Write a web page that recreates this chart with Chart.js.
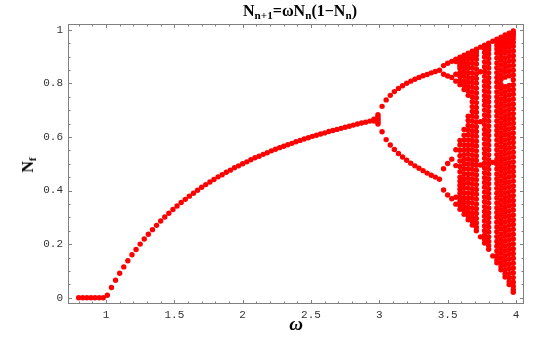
<!DOCTYPE html>
<html>
<head>
<meta charset="utf-8">
<script src="https://cdn.jsdelivr.net/npm/chart.js@4.4.1/dist/chart.umd.min.js"></script>
<style>
  html, body { margin: 0; padding: 0; background: #fff; }
  #wrap { position: relative; width: 546px; height: 337px; overflow: hidden; }
  #chart { position: absolute; left: 0; top: 0; }
  .lbl { position: absolute; font-family: "Liberation Serif", "DejaVu Serif", serif; color: #000; white-space: nowrap; line-height: 16px; }
  .lbl sub { font-size: 0.7em; vertical-align: -0.3em; line-height: 0; }
  #title { left: 300px; top: 3px; font-size: 16px; font-weight: bold; transform: translateX(-50%); }
  #ylab { left: 28px; top: 165px; font-size: 16px; font-weight: bold; transform: translate(-50%, -50%) rotate(-90deg); }
  #xlab { left: 296px; top: 326px; font-size: 19px; font-style: italic; font-weight: bold; transform: translate(-50%, -60%); }
</style>
</head>
<body>
<div id="wrap">
  <canvas id="chart" width="546" height="337"></canvas>
  <div class="lbl" id="title">N<sub>n+1</sub>=&omega;N<sub>n</sub>(1&minus;N<sub>n</sub>)</div>
  <div class="lbl" id="ylab">N<sub>f</sub></div>
  <div class="lbl" id="xlab">&omega;</div>
</div>
<script>
// ===============================
// Dados (passo de omega = 0.03)
// ===============================

// eixos
const xTickValues = [1, 1.5, 2, 2.5, 3, 3.5, 4];
const xTickLabels = ["1", "1.5", "2", "2.5", "3", "3.5", "4"];
const yTickValues = [0, 0.2, 0.4, 0.6, 0.8, 1];
const yTickLabels = ["0", "0.2", "0.4", "0.6", "0.8", "1"];

// omega < 1: população extinta
const lowOmega = [0.80, 0.83, 0.86, 0.89, 0.92, 0.95, 0.98];
const lowNf = [0, 0, 0, 0, 0, 0, 0];

// ponto fixo único
const fixedOmega = [
  1.01, 1.04, 1.07, 1.10, 1.13, 1.16, 1.19, 1.22, 1.25, 1.28,
  1.31, 1.34, 1.37, 1.40, 1.43, 1.46, 1.49, 1.52, 1.55, 1.58,
  1.61, 1.64, 1.67, 1.70, 1.73, 1.76, 1.79, 1.82, 1.85, 1.88,
  1.91, 1.94, 1.97, 2.00, 2.03, 2.06, 2.09, 2.12, 2.15, 2.18,
  2.21, 2.24, 2.27, 2.30, 2.33, 2.36, 2.39, 2.42, 2.45, 2.48,
  2.51, 2.54, 2.57, 2.60, 2.63, 2.66, 2.69, 2.72, 2.75, 2.78,
  2.81, 2.84, 2.87, 2.90, 2.93
];
const fixedNf = [
  0.009, 0.038, 0.065, 0.091, 0.115, 0.138, 0.160, 0.180, 0.200, 0.219,
  0.237, 0.254, 0.270, 0.286, 0.301, 0.315, 0.329, 0.342, 0.355, 0.367,
  0.379, 0.390, 0.401, 0.412, 0.422, 0.432, 0.441, 0.451, 0.459, 0.468,
  0.476, 0.485, 0.492, 0.500, 0.507, 0.515, 0.522, 0.528, 0.535, 0.541,
  0.548, 0.554, 0.560, 0.565, 0.571, 0.576, 0.582, 0.587, 0.592, 0.597,
  0.602, 0.606, 0.611, 0.615, 0.620, 0.624, 0.628, 0.632, 0.636, 0.640,
  0.644, 0.648, 0.652, 0.655, 0.659
];

// perto de omega = 3 (convergência lenta)
const nearThreeOmega = [2.96, 2.99];
const nearThreeNf = [
  [0.659, 0.666],
  [0.648, 0.655, 0.662, 0.669, 0.676, 0.683]
];

// período 2
const period2Omega = [
  3.02, 3.05, 3.08, 3.11, 3.14, 3.17, 3.20, 3.23,
  3.26, 3.29, 3.32, 3.35, 3.38, 3.41, 3.44
];
const period2Upper = [
  0.714, 0.738, 0.755, 0.769, 0.781, 0.791, 0.800, 0.808,
  0.815, 0.822, 0.828, 0.833, 0.839, 0.844, 0.849
];
const period2Lower = [
  0.619, 0.590, 0.570, 0.553, 0.538, 0.525, 0.513, 0.502,
  0.492, 0.483, 0.474, 0.465, 0.457, 0.450, 0.442
];

// período 4 e 8
const period4Omega = [3.47, 3.50, 3.53, 3.56];
const period4Nf = [
  [0.402, 0.481, 0.834, 0.866],
  [0.383, 0.501, 0.827, 0.875],
  [0.369, 0.517, 0.822, 0.882],
  [0.349, 0.375, 0.493, 0.552, 0.808, 0.834, 0.881, 0.890]
];

// região caótica (com janelas de período 5 em 3.74 e período 3 em 3.83)
const chaosOmega = [3.59, 3.62, 3.65, 3.68, 3.71, 3.74, 3.77, 3.80, 3.83, 3.86, 3.89, 3.92, 3.95, 3.98];
const chaosNf = [
  [0.330, 0.345, 0.360, 0.375, 0.390, 0.405, 0.420, 0.435, 0.450, 0.470, 0.490, 0.510, 0.530, 0.550, 0.570, 0.587,
   0.795, 0.810, 0.825, 0.840, 0.855, 0.865, 0.872, 0.885, 0.897],
  [0.311, 0.325, 0.340, 0.355, 0.372, 0.390, 0.408, 0.426, 0.444, 0.462, 0.480, 0.498, 0.516, 0.534, 0.552, 0.570,
   0.588, 0.606, 0.628, 0.777, 0.793, 0.810, 0.827, 0.844, 0.861, 0.878, 0.893, 0.905],
  [0.291, 0.305, 0.320, 0.337, 0.355, 0.373, 0.391, 0.409, 0.427, 0.445, 0.463, 0.481, 0.499, 0.517, 0.535, 0.553,
   0.571, 0.589, 0.607, 0.625, 0.643, 0.661, 0.677, 0.755, 0.771, 0.788, 0.805, 0.822, 0.839, 0.856, 0.873, 0.890,
   0.903, 0.912],
  [0.271, 0.285, 0.300, 0.317, 0.335, 0.353, 0.371, 0.389, 0.407, 0.425, 0.443, 0.461, 0.479, 0.497, 0.515, 0.533,
   0.551, 0.569, 0.587, 0.605, 0.623, 0.641, 0.659, 0.677, 0.695, 0.713, 0.731, 0.749, 0.767, 0.785, 0.803, 0.821,
   0.839, 0.857, 0.875, 0.893, 0.908, 0.920],
  [0.250, 0.263, 0.279, 0.296, 0.314, 0.332, 0.350, 0.368, 0.386, 0.404, 0.422, 0.440, 0.458, 0.476, 0.494, 0.512,
   0.530, 0.548, 0.566, 0.584, 0.602, 0.620, 0.638, 0.656, 0.674, 0.692, 0.710, 0.728, 0.746, 0.764, 0.782, 0.800,
   0.818, 0.836, 0.854, 0.872, 0.890, 0.905, 0.917, 0.927],
  [0.227, 0.495, 0.657, 0.843, 0.935],
  [0.204, 0.217, 0.233, 0.250, 0.268, 0.286, 0.304, 0.322, 0.340, 0.358, 0.376, 0.394, 0.412, 0.430, 0.448, 0.466,
   0.484, 0.502, 0.520, 0.538, 0.556, 0.574, 0.592, 0.610, 0.628, 0.646, 0.664, 0.682, 0.700, 0.718, 0.736, 0.754,
   0.772, 0.790, 0.808, 0.826, 0.844, 0.862, 0.880, 0.898, 0.915, 0.930, 0.942],
  [0.181, 0.194, 0.210, 0.227, 0.245, 0.263, 0.281, 0.299, 0.317, 0.335, 0.353, 0.371, 0.389, 0.407, 0.425, 0.443,
   0.461, 0.479, 0.497, 0.515, 0.533, 0.551, 0.569, 0.587, 0.605, 0.623, 0.641, 0.659, 0.677, 0.695, 0.713, 0.731,
   0.749, 0.767, 0.785, 0.803, 0.821, 0.839, 0.857, 0.875, 0.893, 0.910, 0.925, 0.939, 0.950],
  [0.156, 0.505, 0.957],
  [0.130, 0.142, 0.157, 0.174, 0.192, 0.210, 0.228, 0.246, 0.264, 0.282, 0.300, 0.318, 0.336, 0.354, 0.372, 0.390,
   0.408, 0.426, 0.444, 0.462, 0.480, 0.498, 0.516, 0.534, 0.552, 0.570, 0.588, 0.606, 0.624, 0.642, 0.660, 0.678,
   0.696, 0.714, 0.732, 0.750, 0.768, 0.786, 0.804, 0.822, 0.840, 0.858, 0.876, 0.894, 0.912, 0.928, 0.942, 0.955,
   0.965],
  [0.104, 0.116, 0.131, 0.148, 0.166, 0.184, 0.202, 0.220, 0.238, 0.256, 0.274, 0.292, 0.310, 0.328, 0.346, 0.364,
   0.382, 0.400, 0.418, 0.436, 0.454, 0.472, 0.490, 0.508, 0.526, 0.544, 0.562, 0.580, 0.598, 0.616, 0.634, 0.652,
   0.670, 0.688, 0.706, 0.724, 0.742, 0.760, 0.778, 0.796, 0.814, 0.832, 0.850, 0.868, 0.886, 0.904, 0.921, 0.936,
   0.950, 0.962, 0.972],
  [0.077, 0.089, 0.104, 0.121, 0.139, 0.157, 0.175, 0.193, 0.211, 0.229, 0.247, 0.265, 0.283, 0.301, 0.319, 0.337,
   0.355, 0.373, 0.391, 0.409, 0.427, 0.445, 0.463, 0.481, 0.499, 0.517, 0.535, 0.553, 0.571, 0.589, 0.607, 0.625,
   0.643, 0.661, 0.679, 0.697, 0.715, 0.733, 0.751, 0.769, 0.787, 0.823, 0.841, 0.859, 0.877, 0.895, 0.913,
   0.930, 0.945, 0.958, 0.970, 0.980],
  [0.049, 0.060, 0.074, 0.090, 0.108, 0.126, 0.144, 0.162, 0.180, 0.198, 0.216, 0.234, 0.252, 0.270, 0.288, 0.306,
   0.324, 0.342, 0.360, 0.378, 0.396, 0.414, 0.432, 0.450, 0.468, 0.486, 0.504, 0.522, 0.540, 0.558, 0.576, 0.594,
   0.612, 0.630, 0.648, 0.666, 0.684, 0.702, 0.720, 0.738, 0.756, 0.774, 0.792, 0.828, 0.846, 0.864, 0.882,
   0.900, 0.918, 0.935, 0.950, 0.964, 0.976, 0.987],
  [0.020, 0.030, 0.043, 0.058, 0.075, 0.093, 0.111, 0.129, 0.147, 0.165, 0.183, 0.201, 0.219, 0.237, 0.255, 0.273,
   0.291, 0.309, 0.327, 0.345, 0.363, 0.381, 0.399, 0.417, 0.435, 0.453, 0.471, 0.489, 0.507, 0.525, 0.543, 0.561,
   0.579, 0.597, 0.615, 0.633, 0.651, 0.669, 0.687, 0.705, 0.723, 0.741, 0.759, 0.777, 0.795, 0.813, 0.831, 0.849,
   0.867, 0.885, 0.903, 0.921, 0.938, 0.953, 0.967, 0.979, 0.988, 0.995]
];

// ===============================
// Monta os pontos
// ===============================
const pontos = [];
lowOmega.forEach((w, i) => pontos.push({ x: w, y: lowNf[i] }));
fixedOmega.forEach((w, i) => pontos.push({ x: w, y: fixedNf[i] }));
nearThreeOmega.forEach((w, i) => nearThreeNf[i].forEach(v => pontos.push({ x: w, y: v })));
period2Omega.forEach((w, i) => {
  pontos.push({ x: w, y: period2Upper[i] });
  pontos.push({ x: w, y: period2Lower[i] });
});
period4Omega.forEach((w, i) => period4Nf[i].forEach(v => pontos.push({ x: w, y: v })));
chaosOmega.forEach((w, i) => chaosNf[i].forEach(v => pontos.push({ x: w, y: v })));

// moldura com marcas para dentro (estilo Mathematica)
const molduraPlugin = {
  id: "moldura",
  afterDatasetsDraw(chart) {
    const { ctx, chartArea: a, scales } = chart;
    const sx = scales.x, sy = scales.y;
    ctx.save();
    ctx.strokeStyle = "#808080";
    ctx.lineWidth = 1;
    ctx.strokeRect(a.left + 0.5, a.top + 0.5, a.right - a.left - 1, a.bottom - a.top - 1);

    const tickX = (v, len) => {
      const px = Math.round(sx.getPixelForValue(v)) + 0.5;
      ctx.moveTo(px, a.bottom); ctx.lineTo(px, a.bottom - len);
      ctx.moveTo(px, a.top); ctx.lineTo(px, a.top + len);
    };
    const tickY = (v, len) => {
      const py = Math.round(sy.getPixelForValue(v)) + 0.5;
      ctx.moveTo(a.left, py); ctx.lineTo(a.left + len, py);
      ctx.moveTo(a.right, py); ctx.lineTo(a.right - len, py);
    };
    ctx.beginPath();
    for (let k = 8; k <= 40; k++) tickX(k / 10, k % 5 === 0 ? 4 : 2.5);
    for (let k = 0; k <= 20; k++) tickY(k / 20, k % 4 === 0 ? 4 : 2.5);
    ctx.stroke();
    ctx.restore();
  }
};

const fonteTicks = { family: "'Liberation Mono', 'DejaVu Sans Mono', monospace", size: 11 };

new Chart(document.getElementById("chart"), {
  type: "scatter",
  data: {
    datasets: [{
      data: pontos,
      pointRadius: 2.7,
      pointHoverRadius: 2.7,
      pointBackgroundColor: "#ff0000",
      pointBorderColor: "#ff0000",
      pointBorderWidth: 0
    }]
  },
  options: {
    responsive: false,
    animation: false,
    events: [],
    layout: { padding: { top: 24, right: 22, bottom: 0, left: 0 } },
    plugins: {
      legend: { display: false },
      tooltip: { enabled: false },
      title: { display: false }
    },
    scales: {
      x: {
        type: "linear",
        min: 0.722,
        max: 4.0585,
        grid: { display: false, drawTicks: false },
        border: { display: false },
        afterBuildTicks: s => { s.ticks = xTickValues.map(v => ({ value: v })); },
        afterFit: s => { s.height = 33; },
        ticks: {
          padding: 4,
          maxRotation: 0,
          autoSkip: false,
          color: "#333",
          font: fonteTicks,
          callback: (v, i) => xTickLabels[i]
        }
      },
      y: {
        type: "linear",
        min: -0.0235,
        max: 1.0213,
        grid: { display: false, drawTicks: false },
        border: { display: false },
        afterBuildTicks: s => { s.ticks = yTickValues.map(v => ({ value: v })); },
        afterFit: s => { s.width = 68; },
        ticks: {
          padding: 5,
          autoSkip: false,
          color: "#333",
          font: fonteTicks,
          callback: (v, i) => yTickLabels[i]
        }
      }
    }
  },
  plugins: [molduraPlugin]
});
</script>
</body>
</html>
